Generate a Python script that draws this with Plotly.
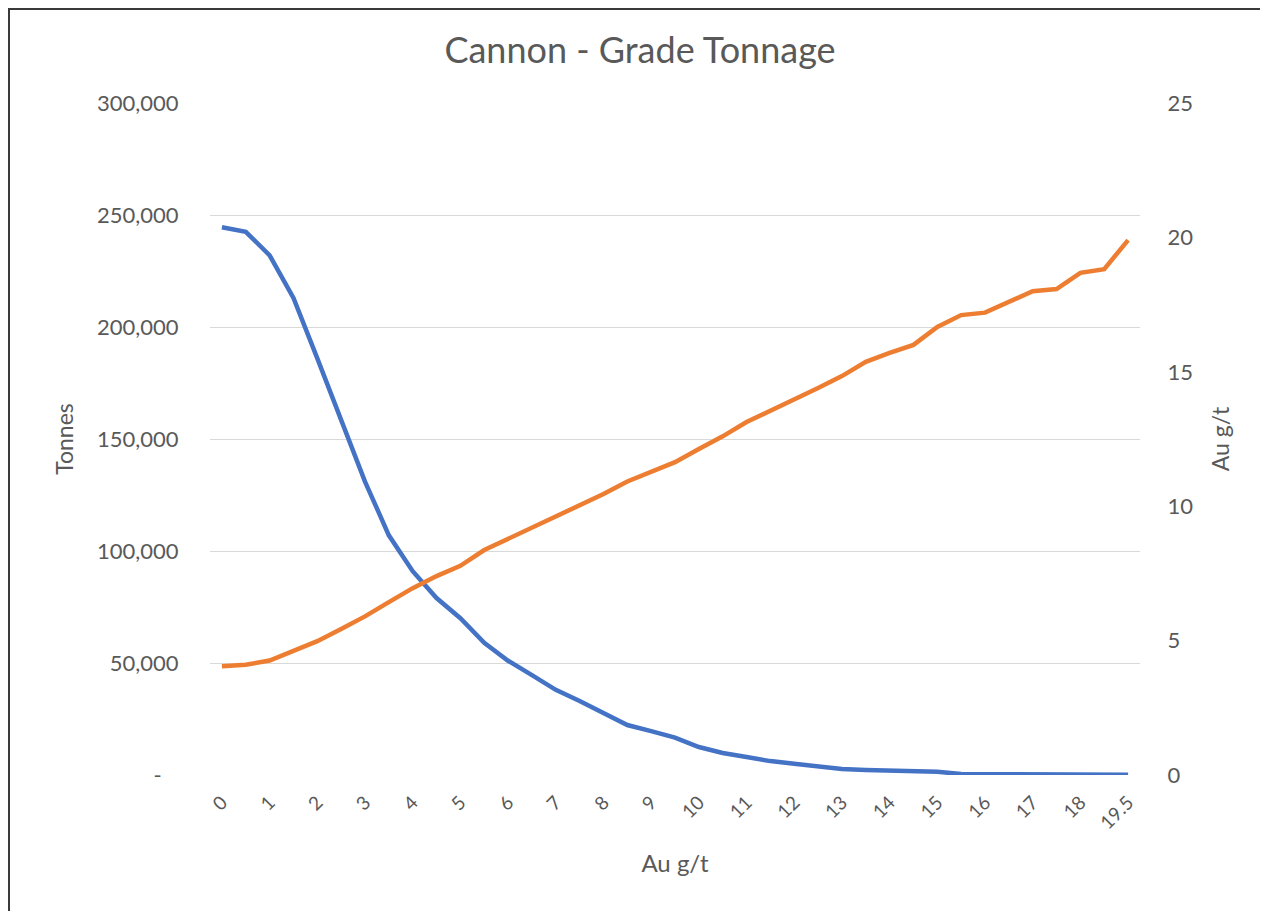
import plotly.graph_objects as go

# Cut-off grade categories (Au g/t)
grades = ["0", "0.5", "1", "1.5", "2", "2.5", "3", "3.5", "4", "4.5",
          "5", "5.5", "6", "6.5", "7", "7.5", "8", "8.5", "9", "9.5",
          "10", "10.5", "11", "11.5", "12", "12.5", "13", "13.5", "14", "14.5",
          "15", "15.5", "16", "16.5", "17", "17.5", "18", "18.5", "19.5"]

# Tonnes above cut-off (left axis)
tonnes = [244500, 242500, 232000, 213000, 186000, 158000, 131000, 107000, 91000, 79000,
          70000, 59000, 51000, 44600, 38000, 33000, 27700, 22300, 19600, 16700,
          12500, 9800, 8000, 6200, 5000, 3600, 2700, 2200, 2000, 1600,
          1400, 500, 500, 500, 500, 500, 500, 400, 100]

# Average grade above cut-off (right axis, Au g/t)
grade_avg = [4.05, 4.10, 4.26, 4.60, 4.98, 5.43, 5.90, 6.43, 6.95, 7.40,
             7.78, 8.37, 8.78, 9.19, 9.60, 10.04, 10.45, 10.92, 11.27, 11.64,
             12.13, 12.60, 13.13, 13.54, 13.95, 14.40, 14.84, 15.37, 15.70, 16.00,
             16.67, 17.11, 17.20, 17.60, 18.00, 18.08, 18.68, 18.82, 19.90]

x_tick_vals = ["0", "1", "2", "3", "4", "5", "6", "7", "8", "9", "10",
               "11", "12", "13", "14", "15", "16", "17", "18", "19.5"]

left_tick_vals = [0, 50000, 100000, 150000, 200000, 250000, 300000]
left_tick_text = ["-\u00a0\u00a0\u00a0", "50,000", "100,000", "150,000",
                  "200,000", "250,000", "300,000"]
right_tick_vals = [0, 5, 10, 15, 20, 25]

FONT = "Lato, 'Open Sans', sans-serif"
GREY = "#595959"

fig = go.Figure()
fig.add_trace(go.Scatter(x=grades, y=tonnes, mode="lines", name="Tonnes",
                         line=dict(color="#4472C4", width=4.5), yaxis="y"))
fig.add_trace(go.Scatter(x=grades, y=grade_avg, mode="lines", name="Au g/t",
                         line=dict(color="#ED7D31", width=4.5), yaxis="y2"))

# page body has an 8px margin, so figure coordinates are offset by 8px
W, H = 1260, 903
L, R, T, B = 202, 1132, 95, 767

fig.update_layout(
    width=W, height=H,
    margin=dict(l=L, r=W - R, t=T, b=H - B, pad=0),
    paper_bgcolor="white", plot_bgcolor="white",
    showlegend=False,
    font=dict(family=FONT, color=GREY),
    title=dict(text="Cannon - Grade Tonnage", x=632 / W, xref="container",
               xanchor="center", y=1 - 42 / H, yref="container", yanchor="middle",
               font=dict(family=FONT, size=36, color=GREY)),
    xaxis=dict(type="category", categoryorder="array", categoryarray=grades,
               range=[-0.5, len(grades) - 0.5],
               tickmode="array", tickvals=x_tick_vals, ticktext=x_tick_vals,
               tickangle=-45, tickfont=dict(size=19, color=GREY),
               ticks="outside", ticklen=8, tickcolor="rgba(0,0,0,0)",
               showgrid=False, showline=False, zeroline=False,
               title=dict(text="Au g/t", font=dict(size=24, color=GREY), standoff=22)),
    yaxis=dict(range=[0, 300000], tickmode="array", tickvals=left_tick_vals,
               ticktext=left_tick_text, tickfont=dict(size=22, color=GREY),
               ticks="outside", ticklen=26, tickcolor="rgba(0,0,0,0)",
               showgrid=True, gridcolor="#D9D9D9", gridwidth=1.3,
               zeroline=False, showline=False,
               title=dict(text="Tonnes", font=dict(size=23, color=GREY), standoff=16)),
    yaxis2=dict(range=[0, 25], overlaying="y", side="right",
                tickmode="array", tickvals=right_tick_vals,
                tickfont=dict(size=22, color=GREY),
                ticks="outside", ticklen=22, tickcolor="rgba(0,0,0,0)",
                showgrid=False, zeroline=False, showline=False,
                title=dict(text="Au g/t", font=dict(size=23, color=GREY), standoff=20)),
)

# Screenshot frame around the chart
fig.add_shape(type="rect", xref="paper", yref="paper",
              x0=(1 - L) / (R - L), x1=(1254 - L) / (R - L),
              y0=(B - 910) / (B - T), y1=(B - 1) / (B - T),
              line=dict(color="#3a3a3a", width=2), fillcolor="rgba(0,0,0,0)",
              layer="above")

fig.write_html("out.html")
